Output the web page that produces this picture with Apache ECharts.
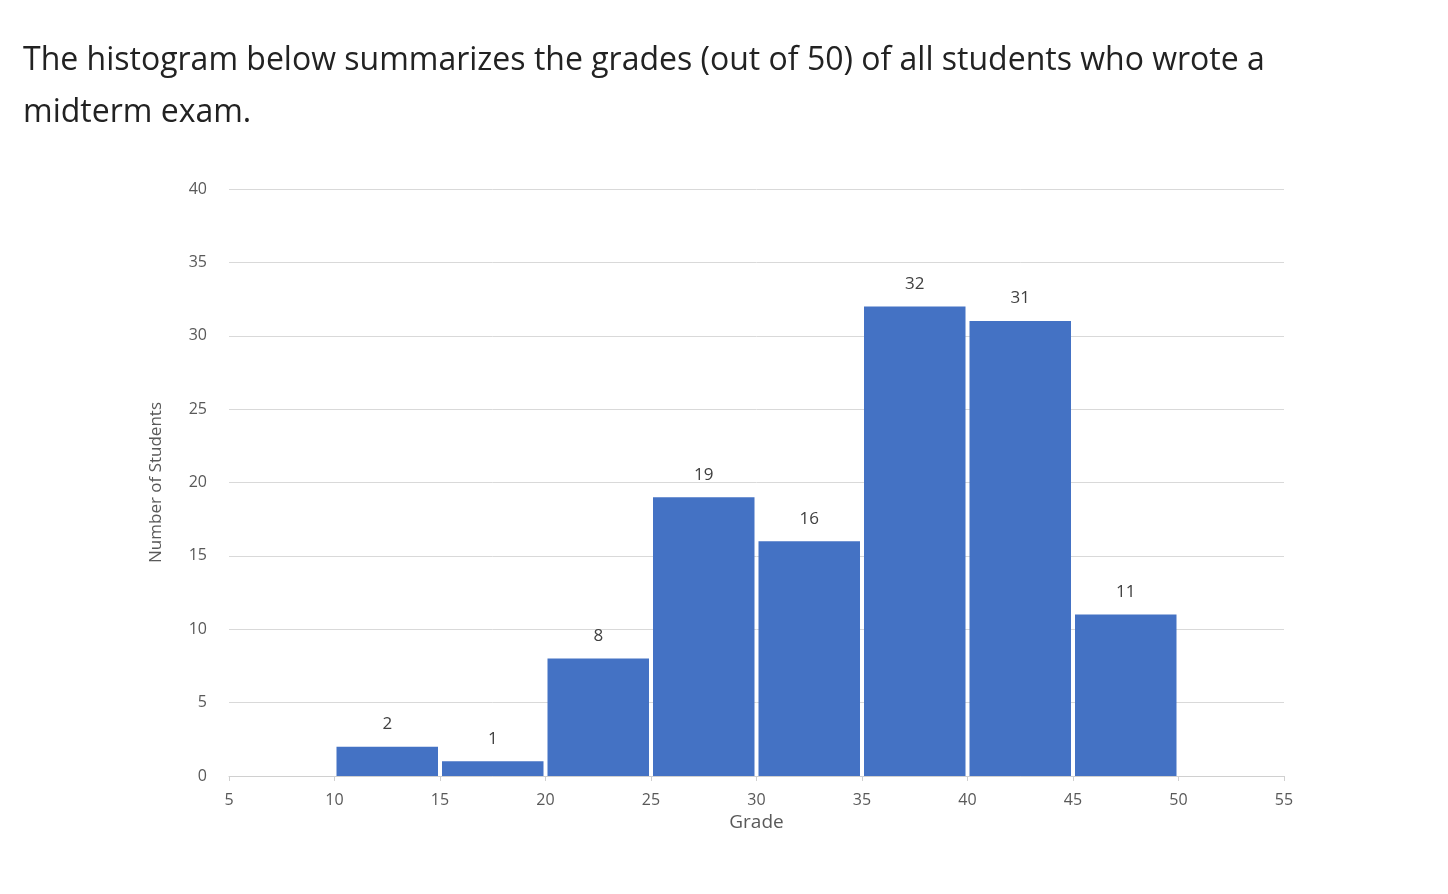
<!DOCTYPE html>
<html lang="en">
<head>
    <meta charset="UTF-8">
    <title>Midterm grades</title>
    <script src="https://cdn.jsdelivr.net/npm/echarts@6/dist/echarts.min.js"></script>
    <style>
        html, body { margin: 0; padding: 0; background: #fff; }
        #chart { width: 1448px; height: 894px; }
    </style>
</head>
<body>
<div id="chart"></div>
<script>
    var binStart = [10, 15, 20, 25, 30, 35, 40, 45];
    var binEnd = [15, 20, 25, 30, 35, 40, 45, 50];
    var counts = [2, 1, 8, 19, 16, 32, 31, 11];

    var data = binStart.map(function (s, i) {
        return [s, binEnd[i], counts[i]];
    });

    var chart = echarts.init(document.getElementById('chart'));

    var option = {
        animation: false,
        title: {
            text: 'The histogram below summarizes the grades (out of 50) of all students who wrote a\nmidterm exam.',
            left: 18,
            top: 30,
            textStyle: {
                fontFamily: 'Open Sans',
                fontSize: 32,
                fontWeight: 'normal',
                color: '#222',
                lineHeight: 52
            }
        },
        grid: {
            left: 229,
            right: 164,
            top: 189,
            bottom: 118
        },
        xAxis: {
            type: 'value',
            min: 5,
            max: 55,
            interval: 5,
            name: 'Grade',
            nameLocation: 'middle',
            nameGap: 36,
            nameTextStyle: { fontFamily: 'Open Sans', fontSize: 19, color: '#595959' },
            axisLine: { lineStyle: { color: '#d0d0d0' } },
            axisTick: { show: true, length: 5, lineStyle: { color: '#d0d0d0' } },
            axisLabel: { fontFamily: 'Open Sans', fontSize: 16, color: '#595959', margin: 16 },
            splitLine: { show: false }
        },
        yAxis: {
            type: 'value',
            min: 0,
            max: 40,
            interval: 5,
            name: 'Number of Students',
            nameLocation: 'middle',
            nameGap: 64,
            nameTextStyle: { fontFamily: 'Open Sans', fontSize: 17, color: '#595959' },
            axisLine: { show: false },
            axisTick: { show: false },
            axisLabel: { fontFamily: 'Open Sans', fontSize: 16, color: '#595959', margin: 22 },
            splitLine: { lineStyle: { color: '#d9d9d9' } }
        },
        series: [{
            type: 'custom',
            data: data,
            encode: { x: [0, 1], y: 2 },
            renderItem: function (params, api) {
                var top = api.coord([api.value(0), api.value(2)]);
                var bottom = api.coord([api.value(1), 0]);
                return {
                    type: 'group',
                    children: [{
                        type: 'rect',
                        shape: {
                            x: top[0] + 2,
                            y: top[1],
                            width: bottom[0] - top[0] - 4,
                            height: bottom[1] - top[1]
                        },
                        style: { fill: '#4472C4' }
                    }, {
                        type: 'text',
                        x: (top[0] + bottom[0]) / 2,
                        y: top[1] - 14,
                        style: {
                            text: String(api.value(2)),
                            fill: '#404040',
                            fontFamily: 'Open Sans',
                            fontSize: 17,
                            align: 'center',
                            verticalAlign: 'bottom'
                        }
                    }]
                };
            }
        }]
    };

    chart.setOption(option);
</script>
</body>
</html>
